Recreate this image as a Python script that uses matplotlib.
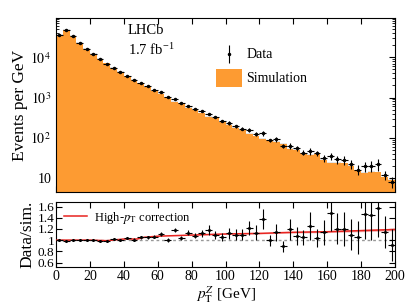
import numpy as np
import matplotlib
matplotlib.use("Agg")
from matplotlib import pyplot as plt
from matplotlib.ticker import FixedLocator, FuncFormatter, MultipleLocator, LogLocator

plt.rcParams['font.family'] = ['Liberation Serif', 'DejaVu Serif']
plt.rcParams['mathtext.fontset'] = 'stix'

# bins of 4 GeV from 0 to 200
edges = np.arange(0, 201, 4)

# data (events per GeV)
data = [36600, 47500, 33800, 23200, 16400, 12400, 9080, 6980, 5550, 4320,
        3510, 2800, 2360, 1910, 1580, 1355, 1017, 908, 751, 633,
        521, 457, 392, 330, 263, 234, 194, 170, 155, 123,
        128, 87, 91, 62, 63, 55, 43, 47, 41, 32,
        35, 29, 28, 22, 16.3, 19.7, 20.5, 22, 11.8, 8.1]

# data / simulation ratio
ratio = [1.00, 0.99, 1.00, 1.00, 1.00, 1.00, 0.99, 0.98, 1.02, 1.00,
         1.04, 1.01, 1.05, 1.05, 1.06, 1.11, 1.00, 1.18, 1.04, 1.13,
         1.08, 1.12, 1.18, 1.09, 1.05, 1.12, 1.10, 1.10, 1.22, 1.13,
         1.37, 1.00, 1.14, 0.89, 1.19, 1.08, 1.05, 1.25, 1.04, 1.14,
         1.49, 1.20, 1.20, 1.10, 1.05, 1.46, 1.44, 1.58, 1.14, 0.91]

# relative uncertainty of the ratio points
rel_err = [0.006, 0.006, 0.007, 0.008, 0.009, 0.01, 0.012, 0.013, 0.015, 0.017,
           0.018, 0.02, 0.022, 0.024, 0.026, 0.028, 0.03, 0.032, 0.035, 0.038,
           0.04, 0.06, 0.07, 0.07, 0.065, 0.09, 0.09, 0.09, 0.10, 0.12,
           0.13, 0.10, 0.13, 0.11, 0.16, 0.15, 0.13, 0.20, 0.15, 0.20,
           0.22, 0.23, 0.25, 0.25, 0.28, 0.30, 0.30, 0.33, 0.25, 0.32]

# high-pT correction curve
corr_pt = [0, 20, 30, 40, 48, 52, 60, 80, 100, 120, 140, 160, 180, 200]
corr_val = [1.00, 1.00, 0.99, 1.02, 1.02, 1.05, 1.07, 1.09, 1.11, 1.12, 1.14, 1.15, 1.17, 1.19]
corr_err = [0.0, 0.0, 0.0, 0.0, 0.0, 0.0, 0.0, 0.003, 0.006, 0.01, 0.013, 0.016, 0.02, 0.022]

data = np.array(data)
ratio = np.array(ratio)
rel_err = np.array(rel_err)
sim = data / ratio
centers = 0.5 * (edges[:-1] + edges[1:])
orange = '#fd9b32'

fig = plt.figure(figsize=(4.07, 3.05), dpi=100)
ax1 = fig.add_axes([0.1376, 0.3705, 0.833, 0.5705])
ax2 = fig.add_axes([0.1376, 0.1246, 0.833, 0.213])

# top panel
sim_step = np.append(sim, sim[-1])
ax1.fill_between(edges, sim_step * 0.96, sim_step * 1.04, step='post', color='#e4e4e4', lw=0, zorder=1)
ax1.fill_between(edges, 1e-3, sim_step, step='post', color=orange, lw=0, zorder=2)
ax1.errorbar(centers, data, yerr=data * rel_err, xerr=2, fmt='o', ms=1.5, color='black',
             elinewidth=0.8, capsize=0, zorder=3)
ax1.set_yscale('log')
ax1.set_xlim(0, 200)
ax1.set_ylim(4.5, 9.5e4)
ax1.set_ylabel('Events per GeV', fontsize=12.5, labelpad=2)
ax1.yaxis.set_major_locator(FixedLocator([10, 100, 1000, 10000]))
ax1.yaxis.set_major_formatter(FuncFormatter(
    lambda v, p: '10' if v == 10 else r'$10^{%d}$' % round(np.log10(v))))
ax1.yaxis.set_minor_locator(LogLocator(base=10, subs=np.arange(2, 10)))
ax1.yaxis.set_minor_formatter(FuncFormatter(lambda v, p: ''))
ax1.xaxis.set_major_locator(MultipleLocator(20))
ax1.set_xticklabels([])
ax1.tick_params(which='both', direction='in', top=True, right=True, labelsize=10)
ax1.tick_params(which='major', length=4)
ax1.tick_params(which='minor', length=2)

ax1.text(0.212, 0.93, 'LHCb', transform=ax1.transAxes, fontsize=10.5, va='center')
ax1.text(0.212, 0.82, r'1.7 fb$^{\mathregular{-1}}$', transform=ax1.transAxes, fontsize=10.5, va='center')

# manual legend
ax1.errorbar([0.51], [0.793], yerr=[0.05], fmt='o', ms=1.5, color='black', elinewidth=0.8,
             transform=ax1.transAxes, clip_on=False, zorder=5)
ax1.text(0.562, 0.793, 'Data', transform=ax1.transAxes, fontsize=10, va='center')
ax1.add_patch(plt.Rectangle((0.472, 0.603), 0.077, 0.104, transform=ax1.transAxes,
                            color=orange, lw=0, zorder=5))
ax1.text(0.562, 0.650, 'Simulation', transform=ax1.transAxes, fontsize=10, va='center')

# bottom panel
ax2.axhline(1.0, color='#999999', ls=(0, (2, 2)), lw=1.0, zorder=1)
corr_val = np.array(corr_val)
corr_err = np.array(corr_err)
ax2.fill_between(corr_pt, corr_val - corr_err, corr_val + corr_err, color='#f4b0b0', lw=0, zorder=2)
ax2.plot(corr_pt, corr_val, color='#e8231f', lw=1.1, zorder=3, label=r'High-$p_\mathrm{T}$ correction')
ax2.errorbar(centers, ratio, yerr=ratio * rel_err, xerr=2, fmt='o', ms=1.2, color='black',
             elinewidth=0.8, capsize=0, zorder=4)
ax2.set_xlim(0, 200)
ax2.set_ylim(0.52, 1.68)
ax2.yaxis.set_major_locator(FixedLocator([0.6, 0.8, 1.0, 1.2, 1.4, 1.6]))
ax2.yaxis.set_major_formatter(FuncFormatter(lambda v, p: '%g' % round(v, 1)))
ax2.xaxis.set_major_locator(MultipleLocator(20))
ax2.tick_params(which='both', direction='in', top=True, right=True, labelsize=10, pad=2)
ax2.tick_params(axis='y', labelsize=9.5, pad=1)
ax2.tick_params(which='major', length=4)
ax2.set_ylabel('Data/sim.', fontsize=12.5, labelpad=2)
ax2.set_xlabel(r'$p_\mathrm{T}^{Z}$ [GeV]', fontsize=11, labelpad=1)
ax2.legend(loc='upper left', frameon=False, fontsize=9, handlelength=1.9,
           borderaxespad=0.3, handletextpad=0.5, borderpad=0.3)

fig.savefig('out.png', dpi=100)
